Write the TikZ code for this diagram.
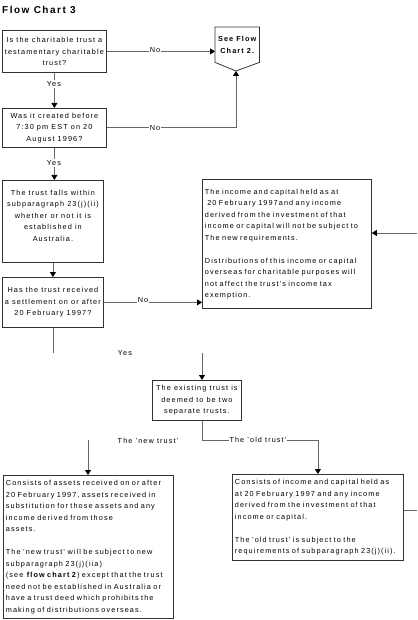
\documentclass[tikz,border=0pt]{standalone}
\usepackage{fontspec}
\setmainfont{Liberation Sans}[LetterSpace=15]
\usetikzlibrary{arrows.meta}
\begin{document}
\begin{tikzpicture}[x=1pt,y=-1pt,
  every node/.style={font=\fontsize{7.3}{11.5}\selectfont, text=black},
  box/.style={draw=black!80, line width=0.8pt, fill=white, inner sep=2.5pt, anchor=north west},
  cbox/.style={box, align=center},
  lbox/.style={box, align=left},
  conn/.style={draw=black!60, line width=0.8pt},
  arr/.style={conn, -{Triangle[length=5pt,width=6pt,color=black]}},
  lbl/.style={fill=white, inner sep=1pt},
]
\useasboundingbox (0,0) rectangle (417,620);

\node[anchor=west, inner sep=0, font=\fontsize{10}{12}\selectfont\bfseries] (title) at (2,10) {Flow Chart 3};

% boxes
\node[cbox, minimum width=104pt, minimum height=42pt] (b1) at (2,30)
  {Is the charitable trust a\\testamentary charitable\\trust?};
\node[cbox, minimum width=104pt, minimum height=39pt] (b2) at (2,108)
  {Was it created before\\7:30 pm EST on 20\\August 1996?};
\node[cbox, minimum width=101pt, minimum height=82pt] (b3) at (2,180)
  {The trust falls within\\subparagraph 23(j)(ii)\\whether or not it is\\established in\\Australia.\\\mbox{}};
\node[cbox, minimum width=101pt, minimum height=50pt] (b4) at (2,277)
  {Has the trust received\\a settlement on or after\\20 February 1997?};
\node[lbox, minimum width=169pt, minimum height=129pt, text width=164pt] (inc) at (202,179)
  {\begin{tabular}{@{}l@{}}
   The income and capital held as at\\
   \ 20 February 1997and any income\\
   derived from the investment of that\\
   income or capital will not be subject to\\
   The new requirements.\\[11.5pt]
   Distributions of this income or capital\\
   overseas for charitable purposes will\\
   not affect the trust's income tax\\
   exemption.
   \end{tabular}};
\node[cbox, minimum width=89pt, minimum height=40pt] (ex) at (152,380)
  {The existing trust is\\deemed to be two\\separate trusts.};
\node[lbox, minimum width=170pt, minimum height=136pt, text width=165pt] (new) at (3,475)
  {\begin{tabular}{@{}l@{}}
   Consists of assets received on or after\\
   20 February 1997, assets received in\\
   substitution for those assets and any\\
   income derived from those\\
   assets.\\[11.5pt]
   The 'new trust' will be subject to new\\
   subparagraph 23(j)(iia)\\
   (see \textbf{flow chart 2}) except that the trust\\
   need not be established in Australia or\\
   have a trust deed which prohibits the\\
   making of distributions overseas.
   \end{tabular}};
\node[lbox, minimum width=171pt, minimum height=84pt, text width=166pt] (old) at (232,474)
  {\begin{tabular}{@{}l@{}}
   Consists of income and capital held as\\
   at 20 February 1997 and any income\\
   derived from the investment of that\\
   income or capital.\\[11.5pt]
   The 'old trust' is subject to the\\
   requirements of subparagraph 23(j)(ii).
   \end{tabular}};

% off-page connector
\node[anchor=north west, minimum width=44pt, minimum height=35pt, inner sep=0, align=center,
      font=\fontsize{7.3}{12}\selectfont\bfseries] (fc2) at (215,27) {See Flow\\Chart 2.};
\coordinate (fc2tip) at (236,71);
\draw[draw=black!80, line width=0.8pt] (fc2.north west) -- (fc2.north east) -- (fc2.south east)
  -- (fc2tip) -- (fc2.south west) -- cycle;

% coordinates for free ends
\coordinate (yesend) at (52,353);
\coordinate (exin) at (202,353);
\coordinate (split) at (202,440);
\coordinate (newin) at (88,440);
\coordinate (incin) at (417,233);
\coordinate (oldout) at (417,510);

% connectors
\draw[arr] (b1.east) -- (b1.east -| fc2.west);
\draw[arr] (b1.south) -- (b2.north);
\draw[arr] (b2.east) -| (fc2tip);
\draw[arr] (b2.south) -- (b2.south |- b3.north);
\draw[arr] (b3.south) -- (b4.north);
\draw[arr] (b4.east) -- (b4.east -| inc.west);
\draw[conn] (b4.south) -- (b4.south |- yesend);
\draw[arr] (exin) -- (exin |- ex.north);
\draw[arr] (ex.south -| split) -- (split) -| (old.north);
\draw[arr] (newin) -- (newin |- new.north);
\draw[arr] (incin) -- (incin -| inc.east);
\draw[conn] (oldout -| old.east) -- (oldout);

% labels
\node[lbl] (no1) at (155,50) {No};
\node[lbl] (yes1) at (54,84) {Yes};
\node[lbl] (no2) at (155,128) {No};
\node[lbl] (yes2) at (54,163) {Yes};
\node[lbl] (no3) at (143,300) {No};
\node[lbl] (yes3) at (125,353) {Yes};
\node[lbl] (newlbl) at (148,441) {The 'new trust'};
\node[lbl] (oldlbl) at (258,440) {The 'old trust'};
\end{tikzpicture}
\end{document}
